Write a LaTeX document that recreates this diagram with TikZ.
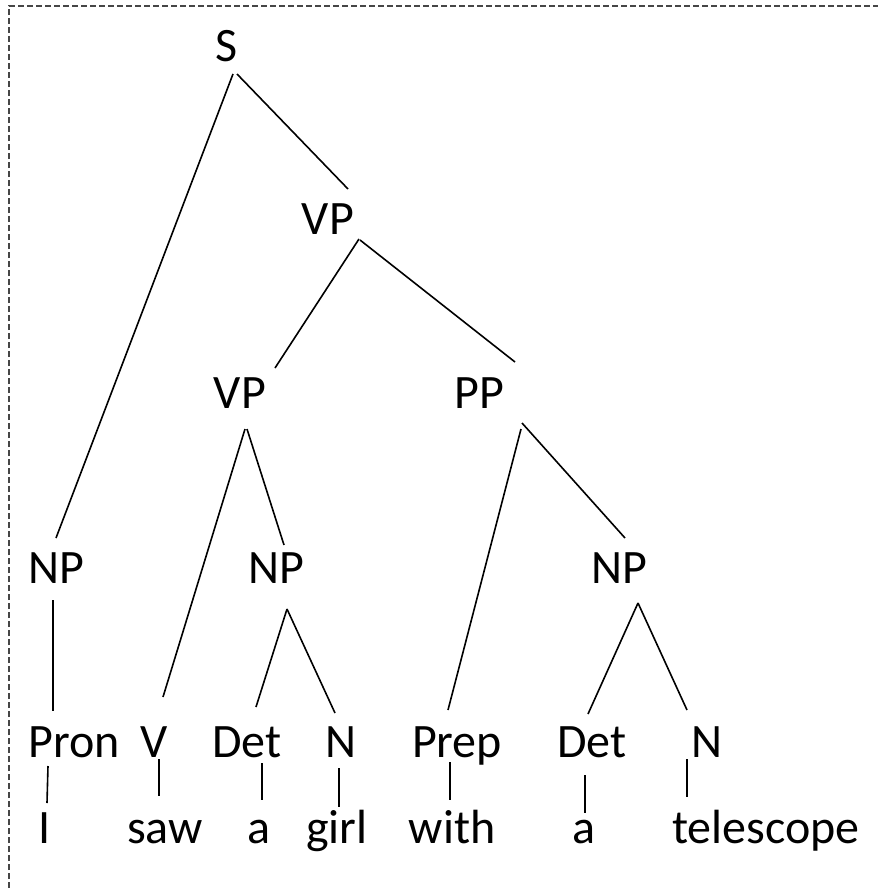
\documentclass[tikz,border=0pt]{standalone}
\usepackage{fontspec}
\setmainfont{Carlito}
\usepackage{tikz}
\usetikzlibrary{positioning, calc}
\definecolor{framegray}{RGB}{70, 70, 70}
\tikzset{
  catlabel/.style={anchor=base, inner sep=0pt, font=\fontsize{48}{57}\selectfont},
  wordlabel/.style={anchor=base, inner sep=0pt, font=\fontsize{48}{57}\selectfont},
  branch/.style={line width=1.6pt, black},
  branch_thick/.style={line width=2.5pt, black},
  framelines/.style={framegray, line width=1.3pt, dash pattern=on 6pt off 3pt}
}

\begin{document}
\begin{tikzpicture}[x=1pt, y=-1pt]
    \useasboundingbox (0,0) rectangle (878,888);

    % --- DASHED FRAME (top and left edge) ---
    \draw[framelines] (9,888) -- (9,6) -- (878,6);

    % --- PHRASE NODES ---
    \node[catlabel] (S)   at (227, 62)  {S};
    \node[catlabel] (vp1) at (328, 234) {VP};
    \node[catlabel] (vp2) at (240, 408) {VP};
    \node[catlabel] (pp)  at (479, 408) {PP};
    \node[catlabel] (np1) at (56, 583)  {NP};
    \node[catlabel] (np2) at (276, 583) {NP};
    \node[catlabel] (np3) at (619, 583) {NP};

    % --- WORD CLASSES ---
    \node[catlabel] (pron) at (74, 757)  {Pron};
    \node[catlabel] (v)    at (154, 757) {V};
    \node[catlabel] (det1) at (247, 757) {Det};
    \node[catlabel] (n1)   at (341, 757) {N};
    \node[catlabel] (prep) at (457, 757) {Prep};
    \node[catlabel] (det2) at (592, 757) {Det};
    \node[catlabel] (n2)   at (707, 757) {N};

    % --- SENTENCE ---
    \node[wordlabel] (w1) at (45, 843)  {I};
    \node[wordlabel] (w2) at (165, 843) {saw};
    \node[wordlabel] (w3) at (259, 843) {a};
    \node[wordlabel] (w4) at (337, 843) {girl};
    \node[wordlabel] (w5) at (452, 843) {with};
    \node[wordlabel] (w6) at (584, 843) {a};
    \node[wordlabel] (w7) at (766, 843) {telescope};

    % --- BRANCHES: S, VP, PP ---
    \draw[branch] ([shift={(6,12)}]S.base) -- ([shift={(0,-45)}]np1.base);
    \draw[branch] ([shift={(10,12)}]S.base) -- ([shift={(20,-45)}]vp1.base);
    \draw[branch] ([shift={(31,5)}]vp1.base) -- ([shift={(35,-40)}]vp2.base);
    \draw[branch] ([shift={(32,6)}]vp1.base) -- ([shift={(36,-46)}]pp.base);
    \draw[branch] ([shift={(5,21)}]vp2.base) -- ([shift={(9,-60)}]v.base);
    \draw[branch] ([shift={(7,21)}]vp2.base) -- ([shift={(8,-38)}]np2.base);
    \draw[branch] ([shift={(42,21)}]pp.base) -- ([shift={(-9,-47)}]prep.base);
    \draw[branch] ([shift={(43,15)}]pp.base) -- ([shift={(6,-45)}]np3.base);

    % --- BRANCHES: NP ---
    \draw[branch_thick] ([shift={(-3,17)}]np1.base) -- ([shift={(-21,-46)}]pron.base);
    \draw[branch] ([shift={(11,26)}]np2.base) -- ([shift={(9,-50)}]det1.base);
    \draw[branch] ([shift={(11,26)}]np2.base) -- ([shift={(-6,-44)}]n1.base);
    \draw[branch] ([shift={(19,20)}]np3.base) -- ([shift={(-4,-43)}]det2.base);
    \draw[branch] ([shift={(19,20)}]np3.base) -- ([shift={(-20,-47)}]n2.base);

    % --- LEXICAL LINKS ---
    \draw[branch] ([shift={(-26,9)}]pron.base) -- ([shift={(2,-40)}]w1.base);
    \draw[branch] ([shift={(5,2)}]v.base) -- ([shift={(-6,-47)}]w2.base);
    \draw[branch] ([shift={(15,6)}]det1.base) -- ([shift={(3,-43)}]w3.base);
    \draw[branch] ([shift={(-2,11)}]n1.base) -- ([shift={(2,-36)}]w4.base);
    \draw[branch] ([shift={(-7,5)}]prep.base) -- ([shift={(-2,-43)}]w5.base);
    \draw[branch] ([shift={(-7,18)}]det2.base) -- ([shift={(1,-30)}]w6.base);
    \draw[branch] ([shift={(-20,2)}]n2.base) -- ([shift={(-79,-46)}]w7.base);
\end{tikzpicture}
\end{document}
